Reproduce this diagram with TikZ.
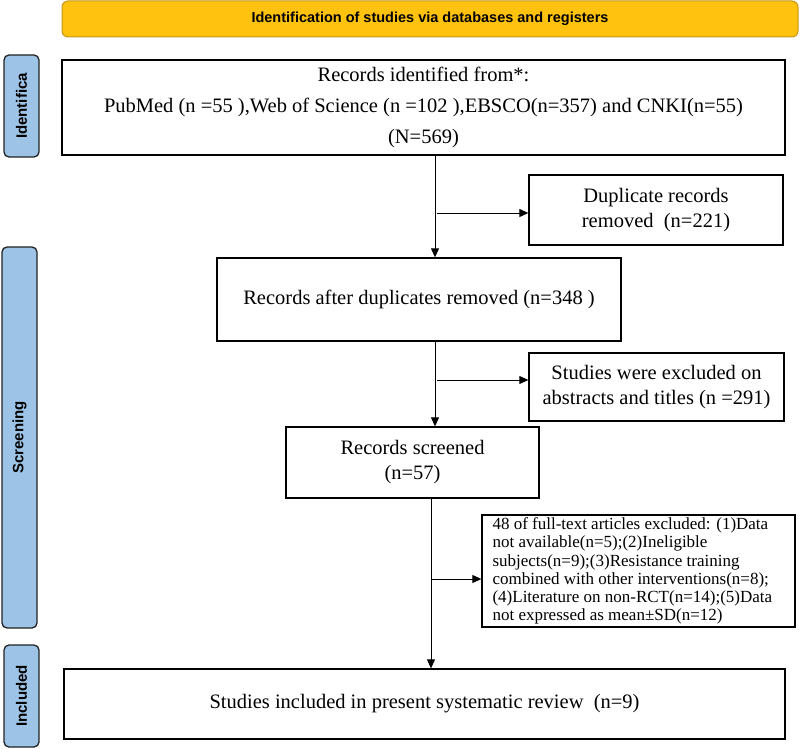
\documentclass[tikz,border=0pt]{standalone}
\usepackage{fontspec}
\setmainfont{Liberation Serif}
\newfontfamily\arialfont{Liberation Sans}
\usetikzlibrary{arrows.meta}
\definecolor{bannerfill}{HTML}{FFC20E}
\definecolor{bannerdraw}{HTML}{C4961A}
\definecolor{sidefill}{HTML}{9DC3E6}
\definecolor{sidedraw}{HTML}{222222}
\newcommand\mybox[7]{%
  \node[#6, minimum width={#4-#2}, minimum height={#5-#3}] (#1) at ({(#2+#4)/2},{(#3+#5)/2}) {#7};}
\newcommand\myside[6]{%
  \node[#6, rotate=90, minimum width={#5-#3}, minimum height={#4-#2}] (#1) at ({(#2+#4)/2},{(#3+#5)/2}) {};
  \node[rotate=90, font=\arialfont\bfseries\fontsize{15}{18}\selectfont, inner sep=0pt] at (#1.center) {\csname sidetext#1\endcsname};}
\begin{document}
\begin{tikzpicture}[x=1pt,y=-1pt,
  box/.style={draw=black, line width=1.3pt, inner sep=0pt, align=center, font=\fontsize{20.5}{25}\selectfont},
  side/.style={draw=sidedraw, line width=1.3pt, rounded corners=5pt, fill=sidefill, inner sep=0pt},
  banner/.style={draw=bannerdraw, line width=1pt, rounded corners=6pt, fill=bannerfill, inner sep=0pt, font=\arialfont\bfseries\fontsize{14.5}{17}\selectfont},
  arr/.style={line width=0.9pt, -{Triangle[length=9pt,width=8pt]}},
]
\useasboundingbox (0,0) rectangle (800,749);

\mybox{ban}{62}{1}{798}{37}{banner}{Identification of studies via databases and registers}

\def\sidetextident{Identifica}
\def\sidetextscreen{Screening}
\def\sidetextincl{Included}
\myside{ident}{4}{55}{39}{157}{side}
\myside{screen}{2}{247}{37}{628}{side}
\myside{incl}{4}{645}{39}{747}{side}

\mybox{rec}{62}{60}{785}{155}{box, font=\fontsize{20.5}{31}\selectfont}{Records identified from*:\\PubMed (n =55 ),Web of Science (n =102 ),EBSCO(n=357) and CNKI(n=55)\\(N=569)}
\mybox{dup}{529}{175}{783}{245}{box}{Duplicate records\\removed\ \ (n=221)}
\mybox{after}{217}{258}{621}{341}{box}{Records after duplicates removed (n=348 )}
\mybox{abs}{529}{353}{784}{421}{box}{Studies were excluded on\\abstracts and titles (n =291)}
\mybox{scr}{286}{427}{539}{498}{box}{Records screened\\(n=57)}
\node[draw=black, line width=1.3pt, minimum width=313pt, minimum height=112pt, inner sep=0pt] (full) at (638.5,571) {};
\node[anchor=west, align=left, inner sep=0pt, font=\fontsize{17}{18.3}\selectfont] at ([xshift=11pt]full.west) {48 of full-text articles excluded: (1)Data\\not available(n=5);(2)Ineligible\\subjects(n=9);(3)Resistance training\\combined with other interventions(n=8);\\(4)Literature on non-RCT(n=14);(5)Data\\not expressed as mean±SD(n=12)};
\mybox{incbox}{64}{669}{785}{739}{box}{Studies included in present systematic review\ \ (n=9)}

\coordinate (c1) at (435,0);
\coordinate (c2) at (431,0);
\coordinate (b1) at (437,213);
\coordinate (b2) at (437,380);
\coordinate (b3) at (431,579);

\draw[arr] (rec.south -| c1) -- (after.north -| c1);
\draw[arr] (b1) -- (dup.west |- b1);
\draw[arr] (after.south -| c1) -- (scr.north -| c1);
\draw[arr] (b2) -- (abs.west |- b2);
\draw[arr] (scr.south -| c2) -- (incbox.north -| c2);
\draw[arr] (b3) -- (full.west |- b3);
\end{tikzpicture}
\end{document}
